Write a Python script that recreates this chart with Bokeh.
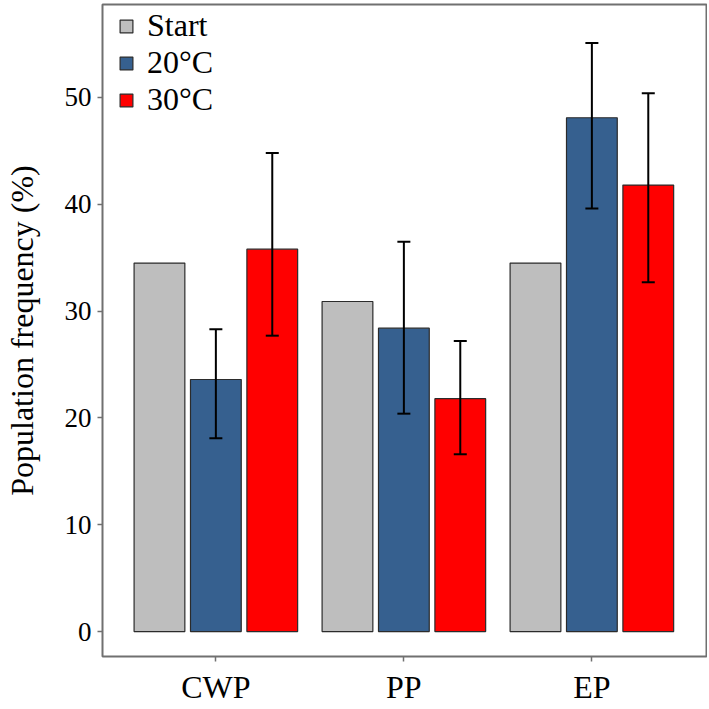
from bokeh.plotting import figure
from bokeh.models import (ColumnDataSource, Range1d, FixedTicker,
                          Whisker, TeeHead, Legend, LegendItem)
from bokeh.transform import dodge
from bokeh.embed import file_html
from bokeh.resources import INLINE

# ---- data ----
categories = ["CWP", "PP", "EP"]
series_names = ["Start", "20°C", "30°C"]
start_vals = [34.5, 30.9, 34.5]
t20_vals = [23.6, 28.4, 48.1]
t20_lower = [18.1, 20.4, 39.6]
t20_upper = [28.3, 36.5, 55.1]
t30_vals = [35.8, 21.8, 41.8]
t30_lower = [27.7, 16.6, 32.7]
t30_upper = [44.8, 27.2, 50.4]
y_ticks = [0, 10, 20, 30, 40, 50]

colors = ["#BEBEBE", "#36608F", "#FF0000"]
FONT = "Liberation Serif"

cat_pos = list(range(1, len(categories) + 1))
src = ColumnDataSource(dict(
    pos=cat_pos, start=start_vals,
    t20=t20_vals, t20_lo=t20_lower, t20_hi=t20_upper,
    t30=t30_vals, t30_lo=t30_lower, t30_hi=t30_upper,
))

p = figure(width=707, height=707, output_backend="svg", toolbar_location=None,
           x_range=Range1d(0.397, 3.615),
           y_range=Range1d(-2.33, 58.7),
           min_border_left=101, min_border_right=0, min_border_top=4,
           min_border_bottom=49)

offsets = [-0.3, 0.0, 0.3]
fields = ["start", "t20", "t30"]
renderers = []
for off, f, c in zip(offsets, fields, colors):
    r = p.vbar(x=dodge("pos", off), top=f, bottom=0, width=0.27,
               source=src, fill_color=c, line_color="#2b2b2b", line_width=1.2)
    renderers.append(r)

for off, lo, hi in [(0.0, "t20_lo", "t20_hi"), (0.3, "t30_lo", "t30_hi")]:
    w = Whisker(base=dodge("pos", off), lower=lo, upper=hi,
                source=src, line_color="black", line_width=2, level="overlay",
                upper_head=TeeHead(size=13, line_width=2, line_color="black"),
                lower_head=TeeHead(size=13, line_width=2, line_color="black"))
    p.add_layout(w)

legend = Legend(items=[LegendItem(label=n, renderers=[r]) for n, r in zip(series_names, renderers)],
                location=(16, 538), margin=0, padding=0, spacing=0,
                glyph_width=16, glyph_height=16, label_standoff=13,
                label_height=16,
                label_text_font=FONT, label_text_font_size="32px",
                label_text_line_height=1.0,
                label_text_color="black",
                border_line_color=None, background_fill_alpha=0)
p.add_layout(legend)

# axes styling
p.xgrid.grid_line_color = None
p.ygrid.grid_line_color = None
p.outline_line_color = "#707070"
p.outline_line_width = 2

p.xaxis.ticker = FixedTicker(ticks=cat_pos)
p.xaxis.major_label_overrides = {i: c for i, c in zip(cat_pos, categories)}
p.yaxis.ticker = FixedTicker(ticks=y_ticks)
p.yaxis.axis_label = "Population frequency (%)"
for ax in (p.xaxis[0], p.yaxis[0]):
    ax.axis_line_color = None
    ax.major_tick_line_color = "#707070"
    ax.major_tick_line_width = 1.5
    ax.major_tick_out = 5
    ax.major_tick_in = 0
    ax.minor_tick_line_color = None
    ax.major_label_text_font = FONT
    ax.major_label_text_color = "black"
    ax.axis_label_text_font = FONT
    ax.axis_label_text_font_style = "normal"
    ax.axis_label_text_color = "black"
p.xaxis.major_label_text_font_size = "32px"
p.xaxis.major_label_standoff = 7
p.yaxis.major_label_text_font_size = "27px"
p.yaxis.major_label_standoff = 6
p.yaxis.axis_label_text_font_size = "32px"
p.yaxis.axis_label_standoff = 22

open("out.html", "w").write(file_html(p, INLINE))
